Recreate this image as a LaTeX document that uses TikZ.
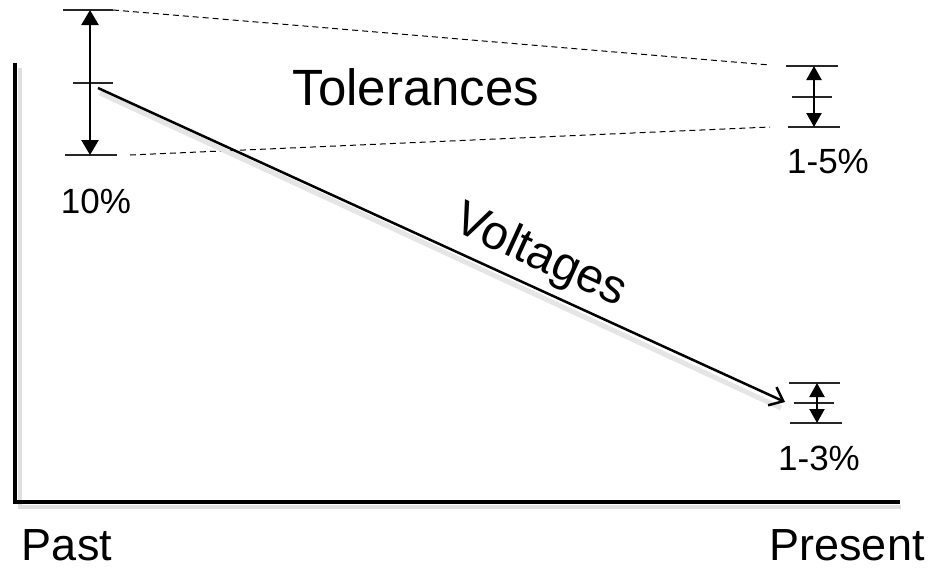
\documentclass[tikz,border=0pt]{standalone}
\usepackage{fontspec}
\setmainfont{Liberation Sans}
\usetikzlibrary{arrows.meta, calc, positioning}

\begin{document}
\begin{tikzpicture}[x=1pt,y=-1pt,
    axis/.style={line width=4.5pt,line cap=rect},
    shade/.style={gray!25,line width=4pt},
    tickline/.style={line width=1.5pt,black!85},
    spread/.style={{Triangle[length=15pt,width=17pt]}-{Triangle[length=15pt,width=17pt]},line width=2.4pt},
    smallspread/.style={{Triangle[length=14pt,width=15pt]}-{Triangle[length=14pt,width=15pt]},line width=2.2pt},
    bound/.style={dashed,dash pattern=on 6pt off 4pt,line width=1pt},
    lbl/.style={anchor=base,inner sep=0pt,font=\fontsize{45}{54}\selectfont},
    pct/.style={anchor=base,inner sep=0pt,font=\fontsize{35}{42}\selectfont}]
\useasboundingbox (0,0) rectangle (933,570);

    % axes with their soft shadow
    \coordinate (origin) at (15,502);
    \coordinate (ytop) at (15,65);
    \coordinate (xend) at (898,502);
    \draw[shade] ($(ytop)+(5,3)$) -- ($(origin)+(5,5)$) -- ($(xend)+(3,5)$);
    \draw[axis] (ytop) -- (origin) -- (xend);

    % 10% spread on the left
    \coordinate (ltop) at (90,10);
    \coordinate (lbot) at (90,155);
    \draw[tickline] (63,10) -- (113,10);
    \draw[tickline] (73,83) -- (113,83);
    \draw[tickline] (65,155) -- (117,155);
    \draw[spread] (ltop) -- (lbot);

    % 1-5% spread, top right
    \coordinate (rtop) at (814,66);
    \coordinate (rbot) at (814,127);
    \draw[tickline] (786,66) -- (838,66);
    \draw[tickline] (792,97) -- (832,97);
    \draw[tickline] (788,127) -- (840,127);
    \draw[smallspread] (rtop) -- (rbot);

    % 1-3% spread, bottom right
    \coordinate (stop) at (817,383);
    \coordinate (sbot) at (817,423);
    \draw[tickline] (789,383) -- (840,383);
    \draw[tickline] (794,403) -- (834,403);
    \draw[tickline] (790,423) -- (842,423);
    \draw[smallspread] (stop) -- (sbot);

    % tolerance bounds
    \draw[bound] (113,10) -- (770,65);
    \draw[bound] (130,155) -- (770,127);

    % voltage trend
    \coordinate (vstart) at (98,88);
    \coordinate (vend) at (785,402);
    \draw[gray!20,line width=5pt] ($(vstart)+(2,5)$) -- ($(vend)+(-4,6)$);
    \draw[-{Straight Barb[length=12pt,width=20pt]},line width=2.5pt] (vstart) -- (vend);

    % labels
    \node[lbl,font=\fontsize{51}{60}\selectfont] (tol) at (416,105) {Tolerances};
    \node[lbl,anchor=center,rotate=-24.6,font=\fontsize{48}{56}\selectfont] (volt) at (540,257) {Voltages};
    \node[pct] (pcta) at (96,213) {10\%};
    \node[pct] (pctb) at (828,173) {1-5\%};
    \node[pct] (pctc) at (819,470) {1-3\%};
    \node[lbl] (past) at (67,560) {Past};
    \node[lbl] (present) at (847,560) {Present};
\end{tikzpicture}
\end{document}
